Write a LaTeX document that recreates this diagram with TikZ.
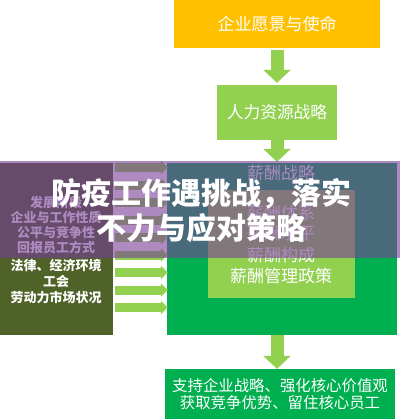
\documentclass[tikz,border=0pt]{standalone}
\usepackage{fontspec}
\newfontfamily\cjk{Noto Sans CJK SC}
\usepackage{tikz}
\usetikzlibrary{arrows.meta}
\definecolor{gold}{HTML}{FFC000}
\definecolor{sprout}{HTML}{92D050}
\definecolor{leaf}{HTML}{00B050}
\definecolor{moss}{HTML}{4F6228}
\definecolor{veil}{HTML}{783C96}

\begin{document}
\begin{tikzpicture}[x=1pt, y=-1pt, every path/.style={line cap=butt}]

        \tikzset{box/.style = {shape=rectangle, inner sep=0pt, text=white, font=\cjk}}
        \tikzset{flow/.style = {sprout, line width=13pt, -{Triangle[width=27pt,length=13pt]}}}
        \tikzset{feed/.style = {sprout, line width=9pt, -{Triangle[width=13pt,length=7pt]}}}

        \useasboundingbox (0,0) rectangle (400,420);

        \node[box, fill=gold, minimum width=206pt, minimum height=48pt, font=\cjk\fontsize{17}{20}\selectfont] (vision) at (277,24) {企业愿景与使命};
        \node[box, fill=sprout, minimum width=120pt, minimum height=55pt, font=\cjk\fontsize{16.7}{20}\selectfont] (hr) at (277,112.5) {人力资源战略};
        \node[box, fill=leaf, minimum width=230pt, minimum height=172pt] (pay) at (282,249) {};
        \node[box, fill=sprout, minimum width=147pt, minimum height=108pt] (policy) at (281.5,244) {};
        \node[box, fill=moss, minimum width=113pt, minimum height=172pt] (factors) at (56.5,249) {};
        \node[box, fill=leaf, minimum width=230pt, minimum height=50pt, align=center, font=\cjk\fontsize{15.4}{17}\selectfont] (goal) at (280,394) {支持企业战略、强化核心价值观\\获取竞争优势、留住核心员工};

        \node[box, font=\cjk\fontsize{17}{20}\selectfont] (strategy) at (281,173) {薪酬战略};
        \node[box, font=\cjk\fontsize{17}{20}\selectfont] (system) at (281,213) {薪酬体系};
        \node[box, font=\cjk\fontsize{17}{20}\selectfont] (level) at (281,233) {薪酬水平};
        \node[box, font=\cjk\fontsize{17}{20}\selectfont] (structure) at (281,255) {薪酬构成};
        \node[box, font=\cjk\fontsize{17}{20}\selectfont] (rules) at (281,276) {薪酬管理政策};

        \node[box, align=center, font=\cjk\bfseries\fontsize{13}{15.3}\selectfont] (inside) at (56,225) {发展阶段\\企业与工作性质\\公平与竞争性\\回报员工方式};
        \node[box, align=center, font=\cjk\bfseries\fontsize{13}{16}\selectfont] (outside) at (56,282) {法律、经济环境\\工会\\劳动力市场状况};

        \draw[flow, shorten <=2pt, shorten >=2pt] (vision) -- (hr);
        \draw[flow, shorten >=1pt] (hr.south) -- (hr.south |- pay.north);
        \draw[flow] (pay.south -| hr) -- (goal.north -| hr);

        \foreach \y in {167.5,185,...,307.5}
            \draw[feed, shorten <=2pt, shorten >=-1pt] (factors.east |- 0,\y) -- (pay.west |- 0,\y);

        % overlay band
        \fill[veil, opacity=0.6] (0,161) rectangle (400,258);
        \node[box, align=center, font=\cjk\bfseries\fontsize{30}{35}\selectfont] (title) at (201,211) {防疫工作遇挑战，落实\\不力与应对策略};
\end{tikzpicture}
\end{document}
